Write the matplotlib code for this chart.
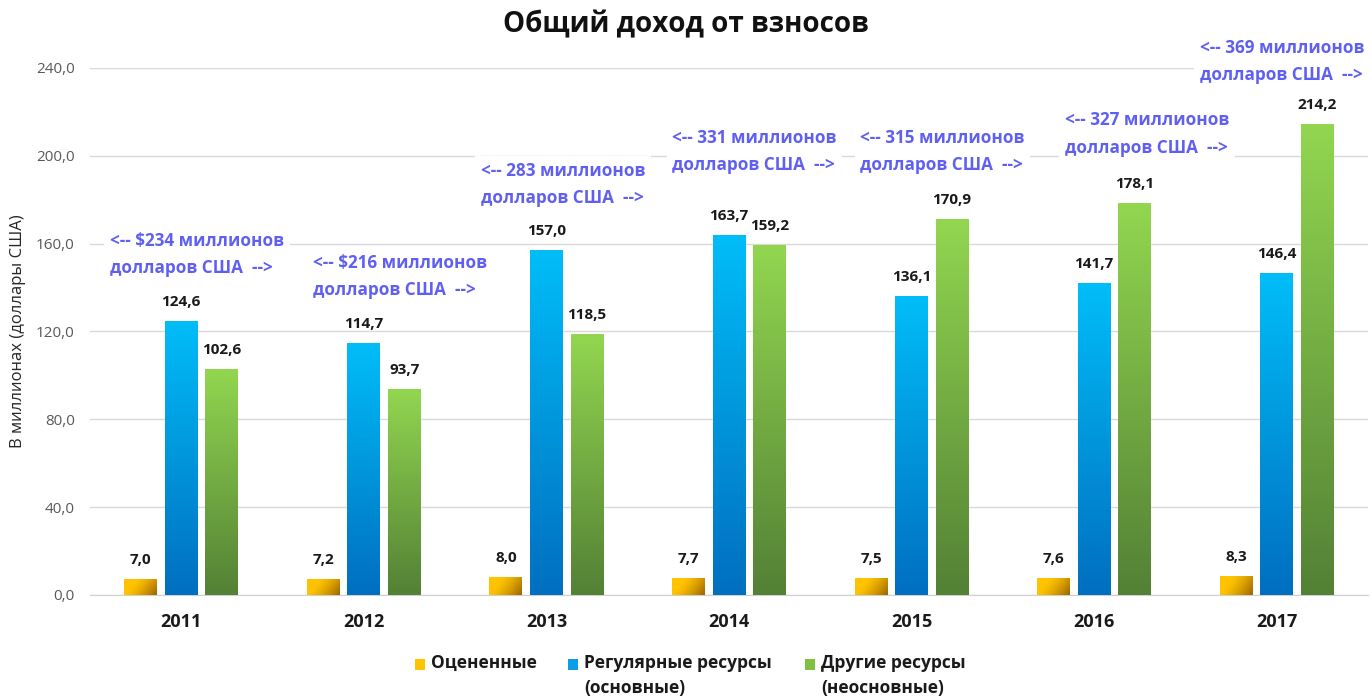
import numpy as np
import matplotlib
matplotlib.use("Agg")
from matplotlib import pyplot as plt
from matplotlib.patches import Rectangle
from matplotlib.colors import to_rgb

plt.rcParams['font.family'] = ['Open Sans', 'DejaVu Sans']

# data
years = ['2011', '2012', '2013', '2014', '2015', '2016', '2017']
assessed = [7.0, 7.2, 8.0, 7.7, 7.5, 7.6, 8.3]
regular = [124.6, 114.7, 157.0, 163.7, 136.1, 141.7, 146.4]
other = [102.6, 93.7, 118.5, 159.2, 170.9, 178.1, 214.2]
totals = ['$234', '$216', '283', '331', '315', '327', '369']
series_names = ['Оцененные', 'Регулярные ресурсы\n(основные)', 'Другие ресурсы\n(неосновные)']
yticks = [0, 40, 80, 120, 160, 200, 240]

# layout of the total annotations (data coords, left edge / vertical centre)
ann_x = [-0.39, 0.72, 1.64, 2.69, 3.72, 4.84, 5.58]
ann_y = [155, 145, 187, 202, 202, 210, 243]

blue_grad = ('#00BDF8', '#006FC0')
green_grad = ('#92D650', '#538135')
yellow_grad = ('#FFC300', '#9A6400')
ann_color = '#5F5FF2'


def fmt(v):
    return ('%.1f' % v).replace('.', ',')


def vgrad(top, bot, n=128):
    t = np.linspace(0, 1, n)[:, None, None]
    return np.array(to_rgb(top)) * (1 - t) + np.array(to_rgb(bot)) * t


def dgrad(c0, c1, n=64):
    u = np.linspace(0, 1, n)[None, :]
    v = np.linspace(0, 1, n)[:, None]
    t = np.clip((0.8 * u + 0.3 * v - 0.3) / 0.8, 0, 1) ** 1.4
    t = t[:, :, None]
    return np.array(to_rgb(c0)) * (1 - t) + np.array(to_rgb(c1)) * t


def fill_gradient(ax, bars, img):
    for b in bars:
        x, y = b.get_xy()
        w, h = b.get_width(), b.get_height()
        ax.imshow(img, extent=[x, x + w, y, y + h], origin='upper',
                  aspect='auto', zorder=3, interpolation='bilinear')
        b.set_facecolor('none')


fig = plt.figure(figsize=(13.72, 6.98), dpi=100)
ax = fig.add_axes([90 / 1372, 1 - 595 / 698, 1278 / 1372, 527 / 698])

x = np.arange(len(years))
w = 0.18
b1 = ax.bar(x - 0.222, assessed, w, zorder=3, edgecolor='none')
b2 = ax.bar(x, regular, w, zorder=3, edgecolor='none')
b3 = ax.bar(x + 0.222, other, w, zorder=3, edgecolor='none')

fill_gradient(ax, b1, dgrad(*yellow_grad))
fill_gradient(ax, b2, vgrad(*blue_grad))
fill_gradient(ax, b3, vgrad(*green_grad))

for bars in (b1, b2, b3):
    ax.bar_label(bars, labels=[fmt(v) for v in bars.datavalues], padding=9,
                 fontsize=11, fontweight='bold', color='#1a1a1a')

ax.set_xlim(-0.5, len(years) - 0.5)
ax.set_ylim(0, 240)
ax.set_yticks(yticks)
ax.set_yticklabels([fmt(v) for v in yticks], fontsize=11, color='#595959')
ax.set_xticks(x)
ax.set_xticklabels(years, fontsize=13, fontweight='bold', color='#1a1a1a')
ax.tick_params(axis='y', length=0, pad=11)
ax.tick_params(axis='x', length=0, pad=13)
ax.grid(axis='y', color='#D9D9D9', linewidth=1, zorder=0)
ax.set_axisbelow(True)
for s in ['top', 'right', 'left']:
    ax.spines[s].set_visible(False)
ax.spines['bottom'].set_color('#D0D0D0')
ax.set_ylabel('В миллионах (доллары США)', fontsize=12, color='#262626', labelpad=7)

for i in range(len(years)):
    ax.text(ann_x[i], ann_y[i], '<-- %s миллионов\nдолларов США  -->' % totals[i],
            ha='left', va='center', fontsize=12.3, fontweight='bold', color=ann_color,
            linespacing=1.68, zorder=4, clip_on=False,
            bbox=dict(facecolor='white', edgecolor='none', pad=4))

fig.text(0.5, 1 - 25 / 698, 'Общий доход от взносов', ha='center', va='center',
         fontsize=20, fontweight='bold', color='#111111')

# legend
leg_x = [415, 568, 805]
leg_cols = [yellow_grad[0], '#0A9EE8', '#80C043']
for lx, name, c in zip(leg_x, series_names, leg_cols):
    fig.patches.append(Rectangle((lx / 1372, 1 - 670 / 698), 10 / 1372, 11 / 698,
                                 transform=fig.transFigure, facecolor=c, edgecolor='none'))
    fig.text((lx + 16) / 1372, 1 - 654 / 698, name, ha='left', va='top',
             fontsize=12.5, fontweight='bold', color='#1a1a1a', linespacing=1.5,
             transform=fig.transFigure)

fig.savefig('out.png', dpi=100)
